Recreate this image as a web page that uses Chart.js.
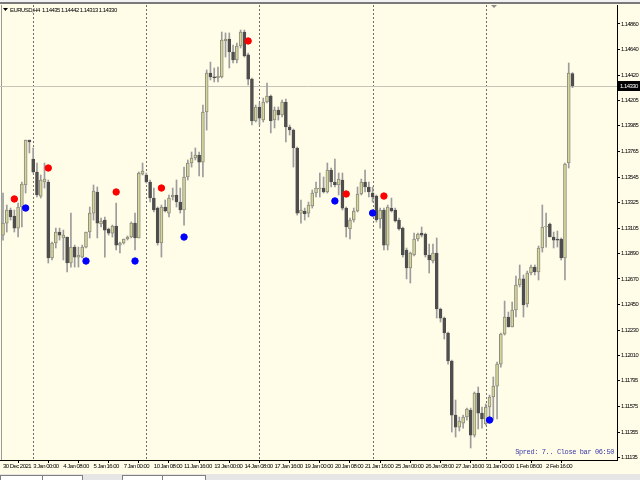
<!DOCTYPE html>
<html>
<head>
<meta charset="utf-8">
<title>EURUSD,H4</title>
<script src="https://cdn.jsdelivr.net/npm/chart.js@4.4.1/dist/chart.umd.min.js"></script>
<style>
  html, body { margin: 0; padding: 0; background: #fffce8; }
  canvas { display: block; }
</style>
</head>
<body>
<canvas id="chart" width="640" height="480"></canvas>
<script>
/* ---- EURUSD H4 candles, 30 Dec 2021 16:00 .. 3 Feb 2022 ---- */
const openP = [
  1.13047, 1.13150, 1.13262, 1.13211, 1.13107, 1.13288, 1.13477, 1.13863, 1.13700, 1.13589,
  1.13382, 1.13503, 1.13503, 1.12850, 1.12979, 1.13073, 1.13022, 1.13030, 1.12807, 1.12944,
  1.12858, 1.12858, 1.12944, 1.13073, 1.13236, 1.13417, 1.13142, 1.13176, 1.13099, 1.13064,
  1.13125, 1.12961, 1.12979, 1.13013, 1.13030, 1.13150, 1.13022, 1.13571, 1.13563, 1.13503,
  1.13365, 1.13279, 1.12979, 1.13288, 1.13236, 1.13374, 1.13391, 1.13331, 1.13262, 1.13546,
  1.13666, 1.13709, 1.13735, 1.13674, 1.14104, 1.14439, 1.14405, 1.14396, 1.14405, 1.14714,
  1.14731, 1.14619, 1.14551, 1.14671, 1.14791, 1.14594, 1.14387, 1.14027, 1.14147, 1.14035,
  1.14190, 1.14241, 1.14035, 1.14121, 1.14078, 1.14190, 1.13975, 1.13949, 1.13795, 1.13236,
  1.13254, 1.13236, 1.13297, 1.13408, 1.13443, 1.13451, 1.13417, 1.13606, 1.13503, 1.13477,
  1.13520, 1.13279, 1.13099, 1.13176, 1.13254, 1.13400, 1.13503, 1.13460, 1.13408, 1.13382,
  1.13185, 1.13262, 1.12961, 1.13279, 1.13262, 1.13176, 1.13107, 1.12919, 1.12764, 1.12876,
  1.13013, 1.13064, 1.13056, 1.12876, 1.12824, 1.12893, 1.12412, 1.12334, 1.12206, 1.11965,
  1.11501, 1.11398, 1.11432, 1.11484, 1.11544, 1.11329, 1.11690, 1.11518, 1.11424, 1.11570,
  1.11656, 1.11750, 1.11939, 1.12197, 1.12343, 1.12257, 1.12403, 1.12618, 1.12670, 1.12455,
  1.12721, 1.12772, 1.12730, 1.12936, 1.13116, 1.13142, 1.13030, 1.13013, 1.13013, 1.12850,
  1.13666, 1.14435
];
const highP = [
  1.13408, 1.13305, 1.13279, 1.13262, 1.13322, 1.13503, 1.13863, 1.13863, 1.13795, 1.13666,
  1.13563, 1.13666, 1.13520, 1.12987, 1.13107, 1.13107, 1.13090, 1.13030, 1.13236, 1.12961,
  1.12944, 1.12961, 1.13073, 1.13288, 1.13477, 1.13460, 1.13193, 1.13202, 1.13107, 1.13133,
  1.13322, 1.12987, 1.13013, 1.13039, 1.13159, 1.13236, 1.13589, 1.13666, 1.13580, 1.13520,
  1.13451, 1.13288, 1.13305, 1.13348, 1.13391, 1.13451, 1.13520, 1.13451, 1.13631, 1.13692,
  1.13760, 1.13795, 1.13760, 1.14164, 1.14465, 1.14533, 1.14482, 1.14490, 1.14791, 1.14783,
  1.14783, 1.14679, 1.14697, 1.14808, 1.14808, 1.14611, 1.14396, 1.14164, 1.14181, 1.14224,
  1.14353, 1.14250, 1.14147, 1.14147, 1.14207, 1.14216, 1.13992, 1.13958, 1.13803, 1.13348,
  1.13279, 1.13331, 1.13434, 1.13503, 1.13580, 1.13546, 1.13666, 1.13623, 1.13700, 1.13580,
  1.13580, 1.13288, 1.13193, 1.13279, 1.13460, 1.13528, 1.13606, 1.13503, 1.13460, 1.13391,
  1.13279, 1.13279, 1.13305, 1.13365, 1.13279, 1.13193, 1.13116, 1.12936, 1.12901, 1.13064,
  1.13064, 1.13116, 1.13064, 1.12970, 1.12970, 1.13022, 1.12420, 1.12343, 1.12214, 1.11973,
  1.11630, 1.11484, 1.11501, 1.11561, 1.11561, 1.11699, 1.11742, 1.11570, 1.11596, 1.11673,
  1.11828, 1.11956, 1.12206, 1.12480, 1.12386, 1.12472, 1.12695, 1.12790, 1.12704, 1.12738,
  1.12790, 1.12790, 1.12953, 1.13305, 1.13236, 1.13150, 1.13073, 1.13082, 1.13022, 1.13666,
  1.14525, 1.14442
];
const lowP = [
  1.13004, 1.13073, 1.13176, 1.13073, 1.13030, 1.13116, 1.13408, 1.13752, 1.13580, 1.13374,
  1.13365, 1.13451, 1.12807, 1.12833, 1.12936, 1.13004, 1.12833, 1.12730, 1.12772, 1.12772,
  1.12772, 1.12850, 1.12936, 1.13022, 1.13176, 1.13022, 1.13116, 1.12858, 1.13047, 1.13030,
  1.12919, 1.12893, 1.12970, 1.13004, 1.13022, 1.12919, 1.13022, 1.13563, 1.13494, 1.13331,
  1.13245, 1.12961, 1.12858, 1.13245, 1.13202, 1.13348, 1.13288, 1.13236, 1.13133, 1.13520,
  1.13631, 1.13692, 1.13554, 1.13546, 1.13949, 1.14379, 1.14362, 1.14362, 1.14396, 1.14576,
  1.14482, 1.14525, 1.14525, 1.14654, 1.14576, 1.14336, 1.13992, 1.14018, 1.13992, 1.14018,
  1.14181, 1.13924, 1.13967, 1.14035, 1.14061, 1.13846, 1.13906, 1.13631, 1.13219, 1.13150,
  1.13176, 1.13202, 1.13279, 1.13374, 1.13374, 1.13408, 1.13408, 1.13460, 1.13460, 1.13391,
  1.13262, 1.13030, 1.13013, 1.13159, 1.13245, 1.13391, 1.13417, 1.13374, 1.13331, 1.13159,
  1.13107, 1.12919, 1.12919, 1.13245, 1.13159, 1.13090, 1.12858, 1.12670, 1.12635, 1.12867,
  1.12996, 1.13030, 1.12858, 1.12721, 1.12807, 1.12334, 1.12300, 1.12154, 1.11939, 1.11355,
  1.11312, 1.11364, 1.11389, 1.11458, 1.11218, 1.11312, 1.11381, 1.11389, 1.11415, 1.11484,
  1.11458, 1.11467, 1.11913, 1.12188, 1.12257, 1.12257, 1.12343, 1.12601, 1.12343, 1.12429,
  1.12704, 1.12704, 1.12661, 1.12901, 1.12944, 1.13030, 1.12936, 1.12944, 1.12833, 1.12661,
  1.13623, 1.14313
];
const closeP = [
  1.13150, 1.13262, 1.13202, 1.13107, 1.13288, 1.13485, 1.13863, 1.13846, 1.13589, 1.13391,
  1.13520, 1.13528, 1.12850, 1.12979, 1.13073, 1.13047, 1.13047, 1.12807, 1.12944, 1.12858,
  1.12876, 1.12944, 1.13073, 1.13236, 1.13425, 1.13150, 1.13168, 1.13090, 1.13064, 1.13125,
  1.12961, 1.12979, 1.13013, 1.13030, 1.13150, 1.13022, 1.13580, 1.13597, 1.13503, 1.13365,
  1.13262, 1.12979, 1.13288, 1.13254, 1.13365, 1.13391, 1.13331, 1.13262, 1.13546, 1.13666,
  1.13709, 1.13735, 1.13674, 1.14104, 1.14439, 1.14405, 1.14396, 1.14413, 1.14722, 1.14731,
  1.14619, 1.14551, 1.14671, 1.14791, 1.14585, 1.14387, 1.14027, 1.14147, 1.14052, 1.14190,
  1.14241, 1.14027, 1.14121, 1.14078, 1.14190, 1.13975, 1.13949, 1.13795, 1.13236, 1.13262,
  1.13228, 1.13305, 1.13408, 1.13451, 1.13451, 1.13417, 1.13606, 1.13503, 1.13477, 1.13528,
  1.13279, 1.13116, 1.13176, 1.13254, 1.13400, 1.13503, 1.13460, 1.13417, 1.13374, 1.13176,
  1.13262, 1.12961, 1.13288, 1.13254, 1.13168, 1.13099, 1.12876, 1.12764, 1.12893, 1.13013,
  1.13056, 1.13047, 1.12876, 1.12833, 1.12893, 1.12412, 1.12334, 1.12206, 1.11965, 1.11501,
  1.11398, 1.11450, 1.11484, 1.11553, 1.11329, 1.11690, 1.11518, 1.11467, 1.11570, 1.11656,
  1.11750, 1.11939, 1.12197, 1.12343, 1.12257, 1.12403, 1.12618, 1.12670, 1.12446, 1.12721,
  1.12772, 1.12730, 1.12936, 1.13116, 1.13125, 1.13030, 1.13004, 1.13004, 1.12850, 1.13657,
  1.14439, 1.14330
];

// time axis: bar index of each label
const timeTicks  = [0, 8, 16, 24, 32, 40, 48, 56, 64, 72, 80, 88, 96, 104, 112, 120, 128, 136, 144];
const timeLabels = ['30 Dec 2021', '3 Jan 00:00', '4 Jan 08:00', '5 Jan 16:00', '7 Jan 00:00',
  '10 Jan 08:00', '11 Jan 16:00', '13 Jan 00:00', '14 Jan 08:00', '17 Jan 16:00', '19 Jan 00:00',
  '20 Jan 08:00', '21 Jan 16:00', '25 Jan 00:00', '26 Jan 08:00', '27 Jan 16:00', '31 Jan 00:00',
  '1 Feb 08:00', '2 Feb 16:00'];
// weekly period separators (bar index)
const sepBars = [8, 38, 68, 98, 128];

const priceTicks = [1.14860, 1.14640, 1.14420, 1.14205, 1.13985, 1.13765, 1.13545, 1.13325, 1.13105,
  1.12890, 1.12670, 1.12450, 1.12230, 1.12010, 1.11795, 1.11575, 1.11355, 1.11135];
const priceMin = 1.11115;
const priceMax = 1.15023;
const lastPrice = 1.14330;

// indicator dots
const redBars    = [3, 12, 30, 42, 65, 91, 101];
const redPrices  = [1.13357, 1.13623, 1.13417, 1.13451, 1.14714, 1.13400, 1.13382];
const blueBars   = [6, 22, 35, 48, 88, 98, 129];
const bluePrices = [1.13279, 1.12824, 1.12824, 1.13030, 1.13340, 1.13236, 1.11458];

const titleText = 'EURUSD,H4  1.14435 1.14442 1.14313 1.14330';
const infoText  = 'Spred: 7.. Close bar 06:50';

const BG = '#fffce8';
const FONT = "'Liberation Sans', Arial, sans-serif";
const TIGHT = '-0.55px';

const bull = openP.map((o, i) => closeP[i] >= o);

/* ---- frame, separators, bid line, texts ---- */
const terminalPlugin = {
  id: 'terminal',
  beforeUpdate(chart) {
    chart.ctx.letterSpacing = TIGHT;
  },
  beforeDraw(chart) {
    const c = chart.ctx;
    c.letterSpacing = TIGHT;
    c.save();
    c.fillStyle = BG;
    c.fillRect(0, 0, chart.width, chart.height);
    // window top edge
    c.fillStyle = '#f2f2f2';
    c.fillRect(0, 0, chart.width, 2);
    c.fillStyle = '#7a7a7a';
    c.fillRect(0, 2, chart.width, 2);
    // bottom tab strip
    c.fillStyle = '#e6e6e6';
    c.fillRect(0, 474, chart.width, 6);
    c.fillStyle = '#ffffff';
    c.fillRect(0, 475, 82, 5);
    c.fillRect(122, 475, 83, 5);
    c.strokeStyle = '#808080';
    c.lineWidth = 1;
    c.strokeRect(0.5, 475.5, 82, 6);
    c.strokeRect(122.5, 475.5, 83, 6);
    c.beginPath();
    c.moveTo(42.5, 475); c.lineTo(42.5, 480);
    c.moveTo(162.5, 475); c.lineTo(162.5, 480);
    c.stroke();
    c.restore();
  },
  beforeDatasetsDraw(chart) {
    const c = chart.ctx;
    const a = chart.chartArea;
    const xs = chart.scales.x, ys = chart.scales.y;
    c.save();
    // left window edge
    c.strokeStyle = '#9a9a9a';
    c.lineWidth = 1;
    c.beginPath();
    c.moveTo(1.5, a.top); c.lineTo(1.5, a.bottom);
    c.stroke();
    // period separators
    c.strokeStyle = '#6e6e6e';
    c.setLineDash([2, 2]);
    sepBars.forEach(b => {
      const x = Math.round(xs.getPixelForValue(b)) + 0.5;
      c.beginPath();
      c.moveTo(x, a.top); c.lineTo(x, a.bottom);
      c.stroke();
    });
    c.setLineDash([]);
    // bid line
    const y = Math.round(ys.getPixelForValue(lastPrice)) + 0.5;
    c.strokeStyle = '#c4c4b8';
    c.beginPath();
    c.moveTo(a.left, y); c.lineTo(a.right, y);
    c.stroke();
    c.restore();
  },
  afterDraw(chart) {
    const c = chart.ctx;
    const a = chart.chartArea;
    const ys = chart.scales.y;
    c.save();
    // shift marker
    c.fillStyle = '#8c8c8c';
    c.beginPath();
    c.moveTo(491, 5); c.lineTo(497, 5); c.lineTo(494, 8);
    c.closePath(); c.fill();
    // title
    c.fillStyle = '#000';
    c.beginPath();
    c.moveTo(3, 8); c.lineTo(8, 8); c.lineTo(5.5, 11);
    c.closePath(); c.fill();
    c.font = '6px ' + FONT;
    c.textBaseline = 'middle';
    c.textAlign = 'left';
    c.fillText(titleText, 10, 10);
    // current price box
    const y = Math.round(ys.getPixelForValue(lastPrice));
    c.fillStyle = '#000';
    c.fillRect(a.right, y - 5, chart.width - a.right, 10);
    c.fillStyle = '#fff';
    c.fillText(lastPrice.toFixed(5), a.right + 3, y + 0.5);
    // info line
    c.letterSpacing = '-0.4px';
    c.fillStyle = '#3b3ba6';
    c.font = "7px 'Liberation Mono', 'DejaVu Sans Mono', monospace";
    c.textAlign = 'right';
    c.fillText(infoText, a.right - 3, a.bottom - 8);
    c.restore();
  }
};

new Chart(document.getElementById('chart'), {
  type: 'bar',
  data: {
    datasets: [
      {
        type: 'line',
        label: 'up',
        data: redBars.map((b, k) => ({ x: b, y: redPrices[k] })),
        showLine: false,
        pointRadius: 3.2,
        pointBackgroundColor: '#ff0000',
        pointBorderColor: '#ff0000',
        order: -2,
      },
      {
        type: 'line',
        label: 'down',
        data: blueBars.map((b, k) => ({ x: b, y: bluePrices[k] })),
        showLine: false,
        pointRadius: 3.2,
        pointBackgroundColor: '#0000ff',
        pointBorderColor: '#0000ff',
        order: -1,
      },
      {
        label: 'body',
        data: openP.map((o, i) => ({ x: i, y: [o, closeP[i]] })),
        backgroundColor: bull.map(b => b ? '#d6d59a' : '#4e4e4e'),
        borderColor: bull.map(b => b ? '#8c8c7c' : '#4e4e4e'),
        borderWidth: 1,
        borderSkipped: false,
        barThickness: 3,
        minBarLength: 1,
        grouped: false,
        order: 0,
      },
      {
        label: 'wick',
        data: highP.map((h, i) => ({ x: i, y: [lowP[i], h] })),
        backgroundColor: '#9c9c9c',
        barThickness: 1,
        grouped: false,
        order: 1,
      },
    ],
  },
  options: {
    responsive: false,
    animation: false,
    devicePixelRatio: 1,
    layout: { autoPadding: false, padding: { left: 0, top: 5, right: 0, bottom: 0 } },
    plugins: { legend: { display: false }, tooltip: { enabled: false } },
    scales: {
      x: {
        type: 'linear',
        min: -0.8,
        max: 162.8,
        offset: false,
        grid: { drawOnChartArea: false, tickLength: 3, color: '#000' },
        border: { color: '#000' },
        ticks: {
          align: 'start',
          autoSkip: false,
          maxRotation: 0,
          padding: 0,
          color: '#000',
          font: { family: FONT, size: 6 },
          callback: v => timeLabels[timeTicks.indexOf(v)] || '',
        },
        afterBuildTicks: s => { s.ticks = timeTicks.map(v => ({ value: v })); },
        afterFit: s => { s.height = 20; s.paddingLeft = 0; s.paddingRight = 0; },
      },
      y: {
        position: 'right',
        min: priceMin,
        max: priceMax,
        grid: { drawOnChartArea: false, tickLength: 3, color: '#000' },
        border: { color: '#000' },
        ticks: {
          padding: 1,
          color: '#000',
          font: { family: FONT, size: 5.8 },
          callback: v => v.toFixed(5),
        },
        afterBuildTicks: s => { s.ticks = priceTicks.map(v => ({ value: v })); },
        afterFit: s => { s.width = 23; s.paddingTop = 0; s.paddingBottom = 0; },
      },
    },
  },
  plugins: [terminalPlugin],
});
</script>
</body>
</html>
